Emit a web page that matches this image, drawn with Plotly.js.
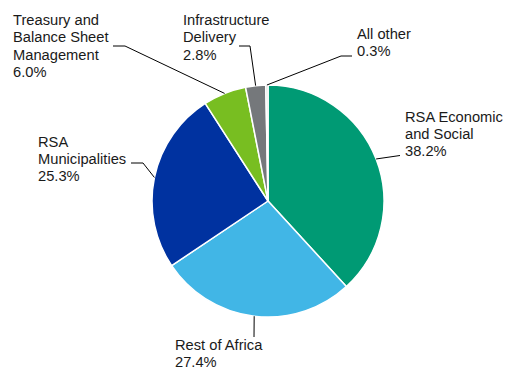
<!DOCTYPE html>
<html>
<head>
<meta charset="utf-8">
<script src="https://cdn.plot.ly/plotly-3.0.1.min.js"></script>
<style>html,body{margin:0;padding:0;background:#fff;}#chart{width:507px;height:368px;}</style>
</head>
<body>
<div id="chart"></div>
<script>
// Data
const categories = ["RSA Economic and Social", "Rest of Africa", "RSA Municipalities", "Treasury and Balance Sheet Management", "Infrastructure Delivery", "All other"];
const labelLines = [["RSA Economic", "and Social"], ["Rest of Africa"], ["RSA", "Municipalities"], ["Treasury and", "Balance Sheet", "Management"], ["Infrastructure", "Delivery"], ["All other"]];
const shares = [38.2, 27.4, 25.3, 6.0, 2.8, 0.3];

// Styling / layout config
const colors = ["#009A74", "#41B6E6", "#0032A0", "#78BE21", "#75787B", "#D0D0CE"];
const W = 507, H = 368;
const cx = 268, cy = 201, R = 116;
const FS = 14.7, LH = 17.3, CAPOFF = 5;
// label text left / cap-top (px) and leader line bend/end points (px)
const labelPos = [
  {x: 404, y: 111.5, pts: [[400, 155.5]]},
  {x: 174, y: 340,   pts: [[254, 337]]},
  {x: 37,  y: 136.5, pts: [[143, 163], [131, 163]]},
  {x: 12,  y: 15,    pts: [[125, 46], [113, 46]]},
  {x: 182, y: 15,    pts: [[250, 46], [239, 46]]},
  {x: 356, y: 29,    pts: [[341, 56], [352, 56]]}
];

const total = shares.reduce((a, b) => a + b, 0);
const annotations = [];
const shapes = [];
let cum = 0;
shares.forEach((v, i) => {
  const mid = (cum + v / 2) / total;
  cum += v;
  const ang = (90 - 360 * mid) * Math.PI / 180;
  const ex = cx + R * Math.cos(ang);
  const ey = cy - R * Math.sin(ang);
  const p = labelPos[i];
  let path = `M${ex / W},${1 - ey / H}`;
  p.pts.forEach(pt => { path += ` L${pt[0] / W},${1 - pt[1] / H}`; });
  shapes.push({type: 'path', xref: 'paper', yref: 'paper', path: path, line: {color: '#000', width: 1}});
  const lines = labelLines[i].concat([v.toFixed(1) + '%']);
  lines.forEach((t, k) => {
    annotations.push({
      xref: 'paper', yref: 'paper', x: (p.x - 1) / W, y: 1 - (p.y - CAPOFF + k * LH) / H,
      xanchor: 'left', yanchor: 'top', align: 'left', showarrow: false,
      text: t,
      font: {family: 'Liberation Sans, Arial, sans-serif', size: FS, color: '#1a1a1a'}
    });
  });
});

const trace = {
  type: 'pie',
  labels: categories,
  values: shares,
  sort: false,
  direction: 'clockwise',
  rotation: 0,
  textinfo: 'none',
  hoverinfo: 'none',
  marker: {colors: colors, line: {color: '#ffffff', width: 1.5}},
  domain: {x: [(cx - R) / W, (cx + R) / W], y: [1 - (cy + R) / H, 1 - (cy - R) / H]},
  showlegend: false
};

const layout = {
  width: W, height: H,
  margin: {l: 0, r: 0, t: 0, b: 0},
  paper_bgcolor: '#fff',
  showlegend: false,
  annotations: annotations,
  shapes: shapes
};

Plotly.newPlot('chart', [trace], layout, {displayModeBar: false, staticPlot: true});
</script>
</body>
</html>
